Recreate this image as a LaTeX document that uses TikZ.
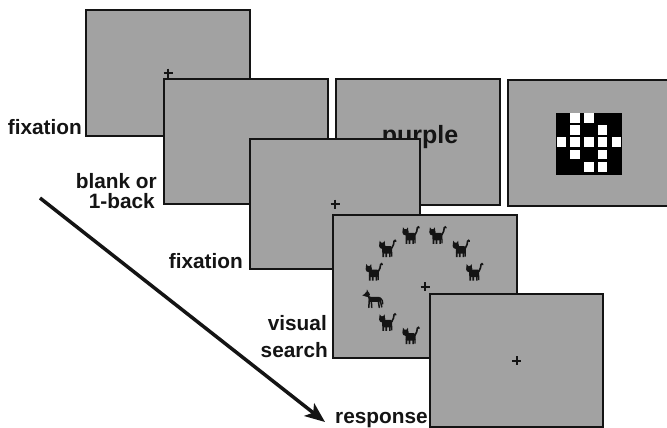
\documentclass[tikz,border=0pt]{standalone}
\usepackage{fontspec}
\setmainfont{Liberation Sans}
\usetikzlibrary{arrows.meta}
\definecolor{screengray}{RGB}{162,162,162}
\definecolor{inkblack}{RGB}{20,20,20}
\begin{document}
\begin{tikzpicture}[x=1pt,y=-1pt,
  screen/.style={draw=inkblack, line width=2.2pt, fill=screengray, inner sep=0pt, anchor=north west},
  lbl/.style={font=\fontsize{20.8}{22}\selectfont\bfseries, text=inkblack, inner sep=0pt},
  fixmark/.pic={\draw[inkblack, line width=1.8pt] (-4.5,0) -- (4.5,0) (0,-4.5) -- (0,4.5);},
  kitty/.pic={
    \fill[inkblack, rounded corners=1.5pt] (-5,-3) rectangle (5,4.5);
    \fill[inkblack] (-5,-3.5) circle (3.2);
    \fill[inkblack] (-8,-4) -- (-7.6,-8.5) -- (-5.5,-6) -- cycle;
    \fill[inkblack] (-4.5,-6) -- (-2.6,-8.5) -- (-2.2,-4) -- cycle;
    \fill[inkblack] (-4.8,3) rectangle (-3.2,8) (-1.8,3) rectangle (-0.2,8)
                    (1.8,3) rectangle (3.4,8) (3.8,3) rectangle (5.2,7.5);
    \draw[inkblack, line width=1.6pt, line cap=round]
      (4.5,-1) .. controls (7,-3) and (5.8,-6) .. (6.8,-8) .. controls (7.3,-9) and (8.4,-9.2) .. (8.6,-8);
  },
  odddog/.pic={
    \fill[inkblack, rounded corners=1.5pt] (-5,-2.5) rectangle (7,2.5);
    \fill[inkblack] (-6.5,-5) circle (2.6);
    \fill[inkblack] (-8.5,-6) -- (-11.5,-4) -- (-8,-3) -- cycle;
    \fill[inkblack] (-7.5,-6.5) -- (-6.8,-10) -- (-5,-6.5) -- cycle;
    \fill[inkblack] (-6,-4) -- (-3,-2.5) -- (-5,1) -- cycle;
    \draw[inkblack, line width=1.5pt, line cap=round]
      (-4.5,1) -- (-5,8) (-2.5,1) -- (-2,8) (4.5,1) -- (5.5,8) (6.5,1) -- (8,7.5);
    \draw[inkblack, line width=1.4pt, line cap=round] (6.5,-1.5) .. controls (8.5,0) and (9,2) .. (9,4.5);
  },
]
\useasboundingbox (0,0) rectangle (667,428);
\clip (0,0) rectangle (667,428);
\fill[white] (0,0) rectangle (667,428);

% first fixation screen
\node[screen, minimum width=164pt, minimum height=126pt] (fixA) at (85,9) {};
\pic at (fixA.center) {fixmark};

% blank / 1-back screen
\node[screen, minimum width=164pt, minimum height=125pt] (blank) at (163,78) {};

% word screen
\node[screen, minimum width=164pt, minimum height=126pt] (word) at (335,78) {};
\node[font=\fontsize{25}{25}\selectfont\bfseries, text=inkblack, inner sep=0pt, anchor=base] (wordtext) at (420,143) {purple};

% mask screen
\node[screen, minimum width=165pt, minimum height=126pt] (mask) at (507,79) {};
\fill[black] (556,112.5) rectangle (622,175);
\foreach \c/\r in {1/0,2/0,1/1,3/1,0/2,1/2,2/2,3/2,4/2,1/3,3/3,2/4,3/4}
  \fill[white] ({556.7+13.75*\c},{113+12.2*\r}) rectangle ++(9.3,9.8);

% second fixation screen
\node[screen, minimum width=170pt, minimum height=130pt] (fixB) at (249,138) {};
\pic at (fixB.center) {fixmark};

% visual search screen
\node[screen, minimum width=184pt, minimum height=143pt] (search) at (332,214) {};
\pic at (search.center) {fixmark};
\foreach \a in {15,45,75,105,135,165,225,255}
  \pic at ({424+52*cos(\a)},{286-52*sin(\a)}) {kitty};
\pic at ({424+52*cos(195)},{286-52*sin(195)}) {odddog};

% response screen
\node[screen, minimum width=173pt, minimum height=133pt] (resp) at (429,293) {};
\pic at (resp.center) {fixmark};

% labels
\node[lbl, anchor=base east] (labfixA) at (82,135) {fixation};
\node[lbl, anchor=base east] (labblankA) at (157,188) {blank or};
\node[lbl, anchor=base east] (labblankB) at (155,208) {1-back};
\node[lbl, anchor=base east] (labfixB) at (243,268) {fixation};
\node[lbl, anchor=base east] (labvisA) at (327,330) {visual};
\node[lbl, anchor=base east] (labvisB) at (328,357) {search};
\node[lbl, anchor=base west] (labresp) at (335,423) {response};

% time arrow
\coordinate (timestart) at (40,198);
\coordinate (timeend) at (325,422);
\draw[inkblack, line width=3.5pt, -{Stealth[length=20pt,width=16pt,inset=5pt]}] (timestart) -- (timeend);
\end{tikzpicture}
\end{document}
